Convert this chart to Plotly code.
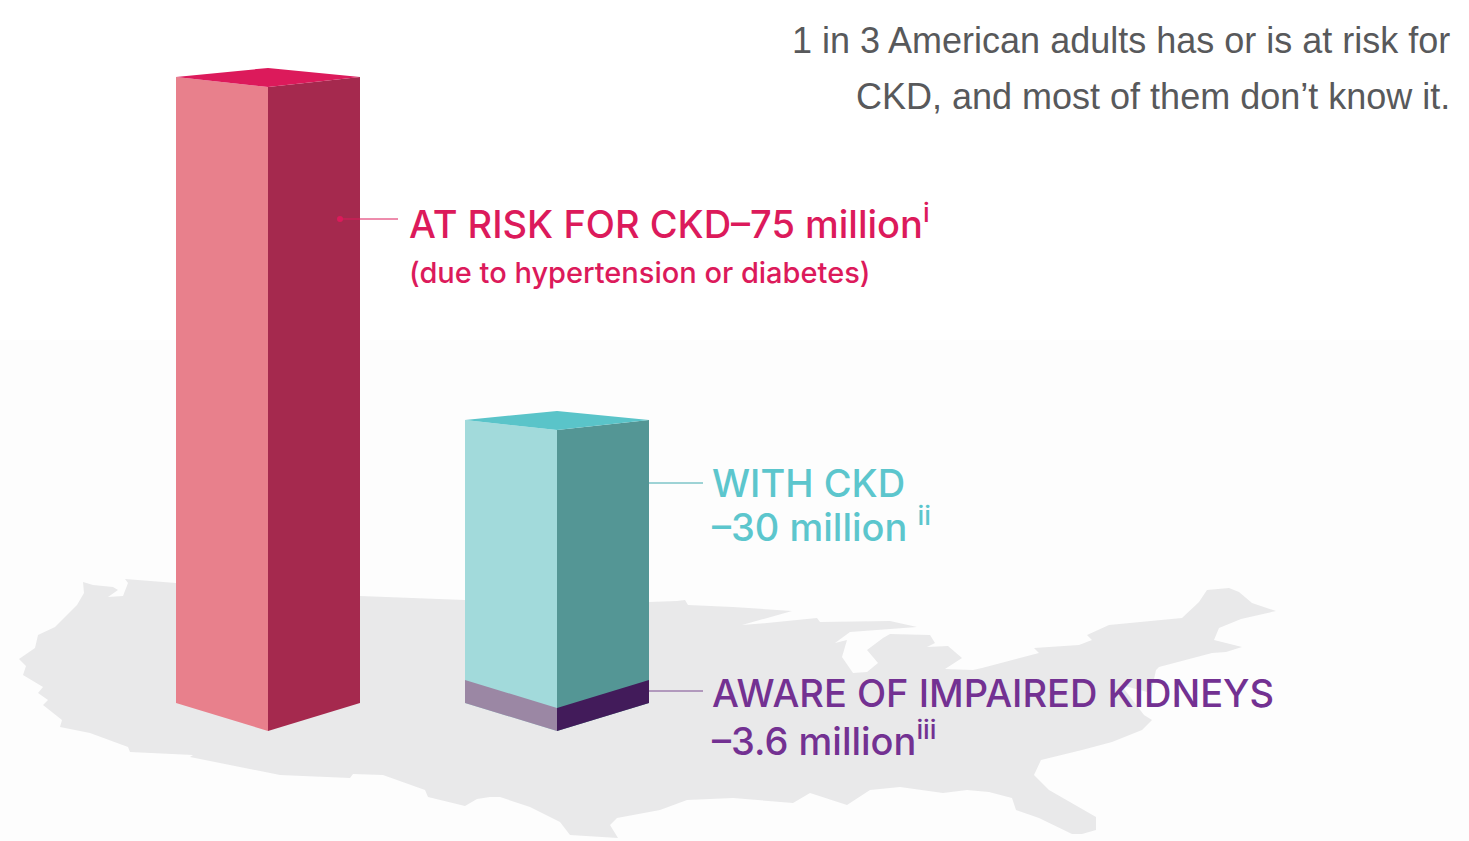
#!/usr/bin/env python3
"""Recreate the CKD 3D bar infographic with Plotly."""

import plotly.graph_objects as go

# Front edge height of each bar in axis units
bar_names = ["At risk for CKD", "With CKD"]
bar_heights = [644, 301]
aware_height = 23

# Outline of the map behind the bars
map_x = [83, 93, 113, 118, 108, 123, 128, 125, 176, 360, 465, 649, 677, 685, 688, 733, 792, 742, 767, 817, 820, 890,
         917, 893, 850, 835, 847, 842, 853, 867, 878, 867, 883, 890, 930, 935, 927, 948, 962, 945, 973, 982, 1039,
         1034, 1079, 1092, 1087, 1109, 1182, 1199, 1207, 1229, 1239, 1252, 1276, 1241, 1219, 1214, 1242, 1226, 1212,
         1159, 1156, 1151, 1121, 1144, 1152, 1142, 1112, 1082, 1041, 1034, 1049, 1096, 1096, 1082, 1072, 1039, 1016,
         1012, 989, 967, 943, 900, 870, 847, 810, 793, 733, 687, 660, 617, 610, 618, 570, 560, 530, 500, 490, 477,
         465, 428, 425, 383, 353, 350, 280, 190, 193, 130, 128, 90, 60, 62, 43, 48, 38, 43, 23, 26, 19, 35, 38, 55,
         77, 84, 83]
map_y = [582, 585, 587, 590, 597, 596, 583, 579, 583, 596, 600, 602, 601, 600, 605, 607, 611, 625, 623, 618, 622, 621,
         627, 629, 632, 643, 640, 657, 673, 672, 663, 650, 638, 634, 635, 643, 647, 646, 658, 669, 670, 668, 653,
         648, 645, 640, 635, 625, 618, 602, 590, 588, 592, 603, 611, 619, 628, 640, 647, 652, 653,
         667, 670, 693, 685, 715, 720, 730, 742, 750, 760, 775, 790, 817, 830, 834, 834, 818, 810,
         798, 792, 790, 793, 787, 790, 805, 793, 803, 798, 800, 810, 818, 825, 838, 835, 822, 807, 797, 797, 799,
         806, 797, 790, 775, 774, 778, 775, 757, 755, 752, 747, 733, 727, 720, 705, 700, 693, 687, 675, 666, 659, 648,
         635, 627, 605, 593, 582]

title_lines = ["1 in 3 American adults has or is at risk for", "CKD, and most of them don’t know it."]
risk_label = "AT RISK FOR CKD–75 million"
risk_note = "(due to hypertension or diabetes)"
ckd_labels = ["WITH CKD", "–30 million"]
aware_labels = ["AWARE OF IMPAIRED KIDNEYS", "–3.6 million"]

# Bar geometry
BASE = 731
SIDE_DROP = 28
TOP_DROP = 10
TOP_RISE = 9
HALF = 92
centers = [268, 557]

RED = "#dc1a5b"
TEAL = "#5cc6cd"
PURPLE = "#733192"
GREY = "#58595b"
LABEL_FONT = "Inter"


def add_poly(fig, xs, ys, color):
    fig.add_trace(go.Scatter(x=xs, y=ys, mode="lines", fill="toself", fillcolor=color,
                             line=dict(width=0), hoverinfo="skip", showlegend=False))


def add_bar(fig, center, height, left_col, right_col, top_col=None, base=BASE):
    front_top = base - height
    side_bottom = base - SIDE_DROP
    side_top = front_top - TOP_DROP if top_col else front_top - SIDE_DROP
    xl, xr = center - HALF, center + HALF
    add_poly(fig, [xl, center, center, xl, xl], [side_bottom, base, front_top, side_top, side_bottom], left_col)
    add_poly(fig, [center, xr, xr, center, center], [base, side_bottom, side_top, front_top, base], right_col)
    if top_col:
        add_poly(fig, [xl, center, xr, center, xl],
                 [side_top, front_top, side_top, front_top - TOP_DROP - TOP_RISE, side_top], top_col)


def add_label(fig, x, y, text, size, color, anchor="left", family=LABEL_FONT, weight=500):
    fig.add_annotation(x=x, y=y, xref="x", yref="y", text=text, showarrow=False, xanchor=anchor, yanchor="middle",
                       align=anchor, borderpad=0, font=dict(family=family, size=size, color=color, weight=weight))


fig = go.Figure()

# very faint darkening towards the bottom of the page
fig.add_shape(type="rect", x0=0, x1=1469, y0=340, y1=841, fillcolor="#fdfdfd", line_width=0, layer="below")

add_poly(fig, map_x, map_y, "#e9e9ea")

add_bar(fig, centers[0], bar_heights[0], "#e8808c", "#a5294e", RED)
add_bar(fig, centers[1], bar_heights[1], "#a2dadb", "#549695", "#5ac4c9")
add_bar(fig, centers[1], aware_height, "#9b87a4", "#421b5a")

# leader lines
for xs, y, color in [([340, 398], 219, RED), ([649, 703], 483, "#3fa9ae"), ([649, 703], 691, "#7a4a90")]:
    fig.add_trace(go.Scatter(x=xs, y=[y, y], mode="lines", line=dict(color=color, width=1),
                             hoverinfo="skip", showlegend=False))
fig.add_trace(go.Scatter(x=[340], y=[219], mode="markers", marker=dict(color=RED, size=6),
                         hoverinfo="skip", showlegend=False))

add_label(fig, 1451, 40, title_lines[0], 36, GREY, "right", "Liberation Sans", 400)
add_label(fig, 1451, 96, title_lines[1], 36, GREY, "right", "Liberation Sans", 400)

add_label(fig, 408, 221, risk_label + "<sup>i</sup>", 38, RED)
add_label(fig, 408, 272, risk_note, 29, RED)
add_label(fig, 711, 483, ckd_labels[0], 38, TEAL)
add_label(fig, 711, 524, ckd_labels[1] + " <sup>ii</sup>", 38, TEAL)
add_label(fig, 711, 693, aware_labels[0], 38, PURPLE)
add_label(fig, 711, 738, aware_labels[1] + "<sup>iii</sup>", 38, PURPLE)

fig.update_layout(width=1469, height=841, margin=dict(l=0, r=0, t=0, b=0), paper_bgcolor="#ffffff",
                  plot_bgcolor="rgba(0,0,0,0)", showlegend=False,
                  xaxis=dict(range=[0, 1469], visible=False, fixedrange=True),
                  yaxis=dict(range=[841, 0], visible=False, fixedrange=True))

fig.write_html("out.html", config={"displayModeBar": False},
               post_script="document.body.style.margin='0';document.body.style.overflow='hidden';")
